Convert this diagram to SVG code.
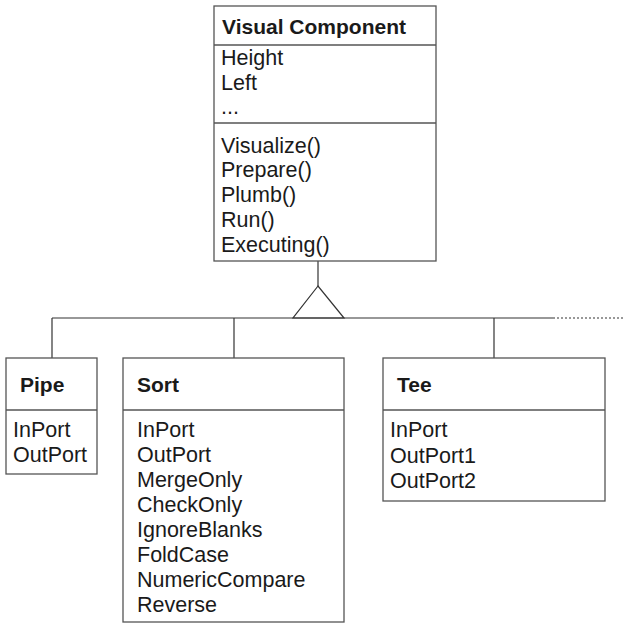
<svg xmlns="http://www.w3.org/2000/svg" width="624" height="626" viewBox="0 0 624 626">
<style>
.box{fill:#fff;stroke:#555;stroke-width:1.3}
.sep{stroke:#555;stroke-width:1.3}
.ln{stroke:#333;stroke-width:1.2;fill:none}
.t{font-family:"Liberation Sans",Arial,sans-serif;font-size:21.5px;fill:#1a1a1a}
.b{font-family:"Liberation Sans",Arial,sans-serif;font-size:21px;font-weight:bold;fill:#1a1a1a}
</style>
<rect width="624" height="626" fill="#fff"/>
<g id="connectors">
<line class="ln" x1="318" y1="261" x2="318" y2="286"/>
<polygon class="ln" points="318,286 293,318 344,318"/>
<line class="ln" x1="52" y1="318" x2="553" y2="318"/>
<line class="ln" x1="553" y1="318" x2="624" y2="318" stroke-dasharray="2,2"/>
<line class="ln" x1="52" y1="318" x2="52" y2="358"/>
<line class="ln" x1="234" y1="318" x2="234" y2="358"/>
<line class="ln" x1="494" y1="318" x2="494" y2="358"/>
</g>
<g id="visual-component">
<rect class="box" x="214" y="6" width="222" height="255"/>
<line class="sep" x1="214" y1="45" x2="436" y2="45"/>
<line class="sep" x1="214" y1="123" x2="436" y2="123"/>
<text class="b" x="222" y="34">Visual Component</text>
<text class="t" x="221" y="65">Height</text>
<text class="t" x="221" y="90">Left</text>
<text class="t" x="221" y="114">...</text>
<text class="t" x="221" y="153">Visualize()</text>
<text class="t" x="221" y="177">Prepare()</text>
<text class="t" x="221" y="202">Plumb()</text>
<text class="t" x="221" y="227">Run()</text>
<text class="t" x="221" y="252">Executing()</text>
</g>
<g id="pipe">
<rect class="box" x="6" y="358" width="91" height="116"/>
<line class="sep" x1="6" y1="410" x2="97" y2="410"/>
<text class="b" x="20" y="392">Pipe</text>
<text class="t" x="13" y="437">InPort</text>
<text class="t" x="13" y="462">OutPort</text>
</g>
<g id="sort">
<rect class="box" x="123" y="358" width="221" height="264"/>
<line class="sep" x1="123" y1="410" x2="344" y2="410"/>
<text class="b" x="137" y="392">Sort</text>
<text class="t" x="137" y="437">InPort</text>
<text class="t" x="137" y="462">OutPort</text>
<text class="t" x="137" y="487">MergeOnly</text>
<text class="t" x="137" y="512">CheckOnly</text>
<text class="t" x="137" y="537">IgnoreBlanks</text>
<text class="t" x="137" y="562">FoldCase</text>
<text class="t" x="137" y="587">NumericCompare</text>
<text class="t" x="137" y="612">Reverse</text>
</g>
<g id="tee">
<rect class="box" x="383" y="358" width="222" height="143"/>
<line class="sep" x1="383" y1="410" x2="605" y2="410"/>
<text class="b" x="397" y="392">Tee</text>
<text class="t" x="390" y="437">InPort</text>
<text class="t" x="390" y="463">OutPort1</text>
<text class="t" x="390" y="488">OutPort2</text>
</g>
</svg>
